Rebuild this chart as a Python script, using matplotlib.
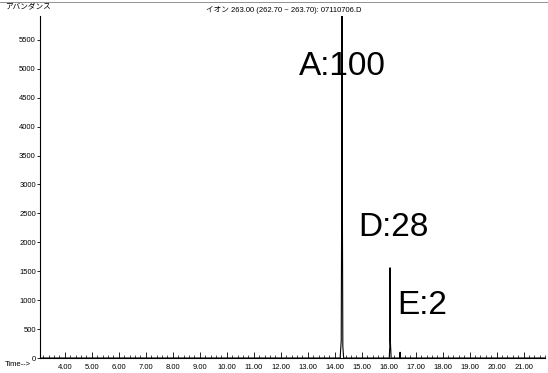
import numpy as np
import matplotlib.pyplot as plt
from matplotlib.ticker import MultipleLocator, FormatStrFormatter

plt.rcParams['font.family'] = ['Liberation Sans', 'Noto Sans CJK JP', 'DejaVu Sans']

# ion chromatogram, m/z 263 (time in min, abundance)
time = [3.08, 14.20, 14.24, 14.26, 14.27, 14.28, 14.30, 14.33,
        16.02, 16.04, 16.05, 16.06, 16.09,
        16.40, 16.42, 16.44, 21.80]
abundance = [0, 0, 300, 3100, 5950, 3100, 200, 0,
             0, 200, 1560, 300, 0,
             0, 100, 0, 0]

peak_names = ['A:100', 'D:28', 'E:2']
label_x = [12.68, 14.88, 16.30]
label_y = [5035, 2257, 900]

title = 'イオン 263.00 (262.70 ~ 263.70): 07110706.D'

fig = plt.figure(figsize=(5.48, 3.73), dpi=100)
ax = fig.add_axes([0.073, 0.0402, 0.922, 0.918])
ax.plot(time, abundance, color='black', lw=0.8)

for name, x, y in zip(peak_names, label_x, label_y):
    ax.text(x, y, name, fontsize=24, ha='left', va='center', color='black')

ax.set_xlim(3.08, 21.8)
ax.set_ylim(0, 5920)
ax.spines['top'].set_visible(False)
ax.spines['right'].set_visible(False)
ax.spines['left'].set_linewidth(0.8)
ax.spines['bottom'].set_linewidth(0.8)

ax.xaxis.set_major_locator(MultipleLocator(1.0))
ax.xaxis.set_minor_locator(MultipleLocator(0.2))
ax.xaxis.set_major_formatter(FormatStrFormatter('%.2f'))
ax.yaxis.set_major_locator(MultipleLocator(500))
ax.tick_params(axis='x', which='major', direction='in', length=4, width=0.6,
               labelsize=5.5, pad=4)
ax.tick_params(axis='x', which='minor', direction='in', length=2, width=0.5)
ax.tick_params(axis='y', direction='out', length=2, width=0.6, labelsize=5.5, pad=1)

fig.text(0.009, 0.978, 'アバンダンス', fontsize=5.5, ha='left', va='center')
fig.text(0.518, 0.973, title, fontsize=5.5, ha='center', va='center')
fig.text(0.009, 0.024, 'Time-->', fontsize=5.5, ha='left', va='center')
fig.add_artist(plt.Line2D([0, 1], [0.995, 0.995], color='gray', lw=0.6))

fig.savefig('out.png', dpi=100)
